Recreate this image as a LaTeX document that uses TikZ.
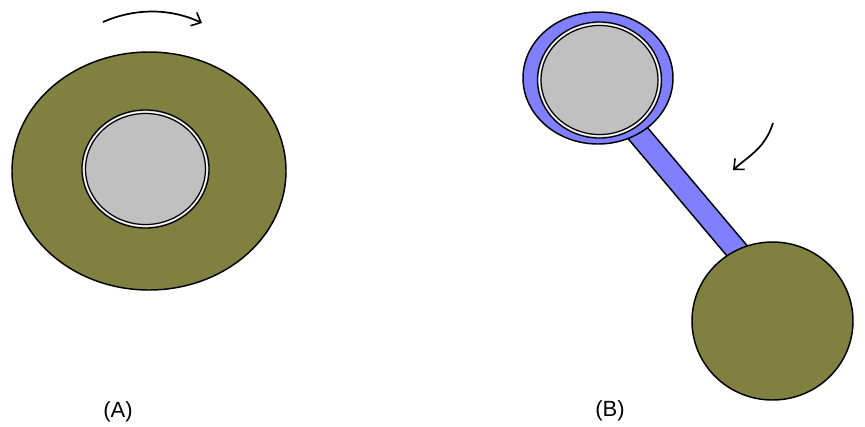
\documentclass[tikz,border=0pt]{standalone}
\usepackage{fontspec}
\setmainfont{Liberation Sans}
\usetikzlibrary{arrows.meta,calc}
\definecolor{olive}{RGB}{128,128,64}
\definecolor{lgray}{RGB}{192,192,192}
\definecolor{lblue}{RGB}{128,128,255}
\tikzset{
  part/.style={draw=black, line width=1.1pt},
  rot/.style={line width=1.3pt, -{Straight Barb[length=6pt,width=11pt,line width=1.2pt]}},
  lbl/.style={font=\fontsize{16.5}{19}\selectfont}
}
\begin{document}
\begin{tikzpicture}[x=0.75pt,y=-0.75pt]
\useasboundingbox (0,0) rectangle (865,426);
% (A)
\fill[olive,part] (149,171) ellipse [x radius=137, y radius=119];
\fill[lgray] (145.5,169) ellipse [x radius=63.5, y radius=59];
\draw[black,line width=1pt] (145.5,169) ellipse [x radius=63.5, y radius=59];
\draw[white,line width=0.9pt] (145.5,169) ellipse [x radius=61.6, y radius=57.1];
\draw[black,line width=0.9pt] (145.5,169) ellipse [x radius=60, y radius=55.5];
\draw[rot] (103,22) .. controls (135,8) and (170,8) .. (202,23);
% (B)
\coordinate (s1) at (620,112);
\coordinate (s2) at (760,278);
\filldraw[fill=lblue,part] ($(s1)+(8.4,-7.1)$) -- ($(s2)+(8.4,-7.1)$) -- ($(s2)+(-8.4,7.1)$) -- ($(s1)+(-8.4,7.1)$) -- cycle;
\fill[lblue,part] (598,78) ellipse [x radius=75, y radius=66];
\fill[lgray] (599.5,80) ellipse [x radius=62, y radius=58];
\draw[black,line width=1pt] (599.5,80) ellipse [x radius=62, y radius=58];
\draw[white,line width=0.9pt] (599.5,80) ellipse [x radius=60.1, y radius=56.1];
\draw[black,line width=0.9pt] (599.5,80) ellipse [x radius=58.5, y radius=54.5];
\fill[olive,part] (772.5,321) ellipse [x radius=80.5, y radius=79];
\draw[rot] (773,123) .. controls (765,148) and (750,155) .. (733,170);
\node[lbl] (la) at (118,412) {(A)};
\node[lbl] (lb) at (610,411) {(B)};
\end{tikzpicture}
\end{document}
